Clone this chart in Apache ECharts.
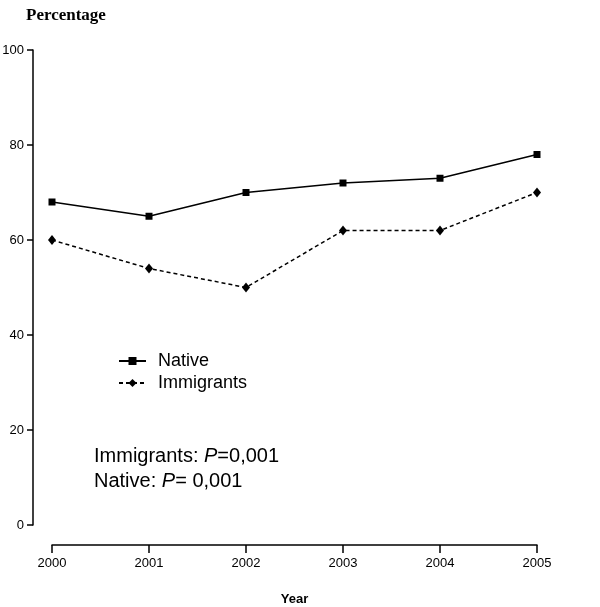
<!DOCTYPE html>
<html>
<head>
<meta charset="utf-8">
<script src="https://cdn.jsdelivr.net/npm/echarts@6/dist/echarts.min.js"></script>
<style>html,body{margin:0;padding:0;background:#fff}#c{width:600px;height:607px}</style>
</head>
<body>
<div id="c"></div>
<script>
const years = ['2000','2001','2002','2003','2004','2005'];
const nativeVals = [68, 65, 70, 72, 73, 78];
const immigrantVals = [60, 54, 50, 62, 62, 70];
const yTicks = [0, 20, 40, 60, 80, 100];

const chart = echarts.init(document.getElementById('c'), null, {renderer: 'canvas'});
const font = 'Liberation Sans, Arial, Helvetica, sans-serif';
chart.setOption({
  animation: false,
  backgroundColor: '#fff',
  textStyle: {fontFamily: font, color: '#000'},
  grid: {left: 52, right: 63, top: 50, bottom: 82, containLabel: false, outerBoundsMode: 'none'},
  title: [{
    text: 'Percentage', left: 21, top: 2,
    textStyle: {fontFamily: 'Liberation Serif, Times New Roman, serif', fontWeight: 'bold', fontSize: 17, color: '#000'}
  }],
  xAxis: {
    type: 'category', data: years, boundaryGap: false, offset: 20,
    name: 'Year', nameLocation: 'middle', nameGap: 48,
    nameTextStyle: {fontFamily: font, fontWeight: 'bold', fontSize: 13, color: '#000'},
    axisLine: {onZero: false, lineStyle: {color: '#000', width: 1.5}},
    axisTick: {length: 8, lineStyle: {color: '#000', width: 1.5}},
    axisLabel: {fontSize: 13, color: '#000', margin: 12, fontFamily: font},
    splitLine: {show: false}
  },
  yAxis: {
    type: 'value', min: yTicks[0], max: yTicks[yTicks.length-1], interval: 20, offset: 19,
    axisLine: {show: true, onZero: false, lineStyle: {color: '#000', width: 1.5}},
    axisTick: {show: true, length: 6, lineStyle: {color: '#000', width: 1.5}},
    axisLabel: {fontSize: 13, color: '#000', margin: 9, fontFamily: font},
    splitLine: {show: false}
  },
  legend: {
    orient: 'vertical', left: 118, top: 352, padding: 0,
    itemWidth: 27, itemHeight: 10, itemGap: 4,
    textStyle: {fontSize: 18, color: '#000', fontFamily: font, padding: [0,0,0,7]},
    data: ['Native', 'Immigrants']
  },
  graphic: [{
    type: 'text', left: 94, top: 446,
    style: {
      text: '{n|Immigrants: }{i|P}{n|=0,001}\n{n|Native: }{i|P}{n|= 0,001}',
      rich: {
        n: {fontSize: 20, fontFamily: font, fill: '#000', lineHeight: 25},
        i: {fontSize: 20, fontFamily: font, fontStyle: 'italic', fill: '#000', lineHeight: 25}
      }
    }
  }],
  series: [{
    name: 'Native', type: 'line', data: nativeVals,
    symbol: 'rect', symbolSize: 7,
    lineStyle: {color: '#000', width: 1.5},
    itemStyle: {color: '#000'}
  }, {
    name: 'Immigrants', type: 'line', data: immigrantVals,
    symbol: 'diamond', symbolSize: [8, 10],
    lineStyle: {color: '#000', width: 1.5, type: [4, 3]},
    itemStyle: {color: '#000'}
  }]
});
</script>
</body>
</html>
